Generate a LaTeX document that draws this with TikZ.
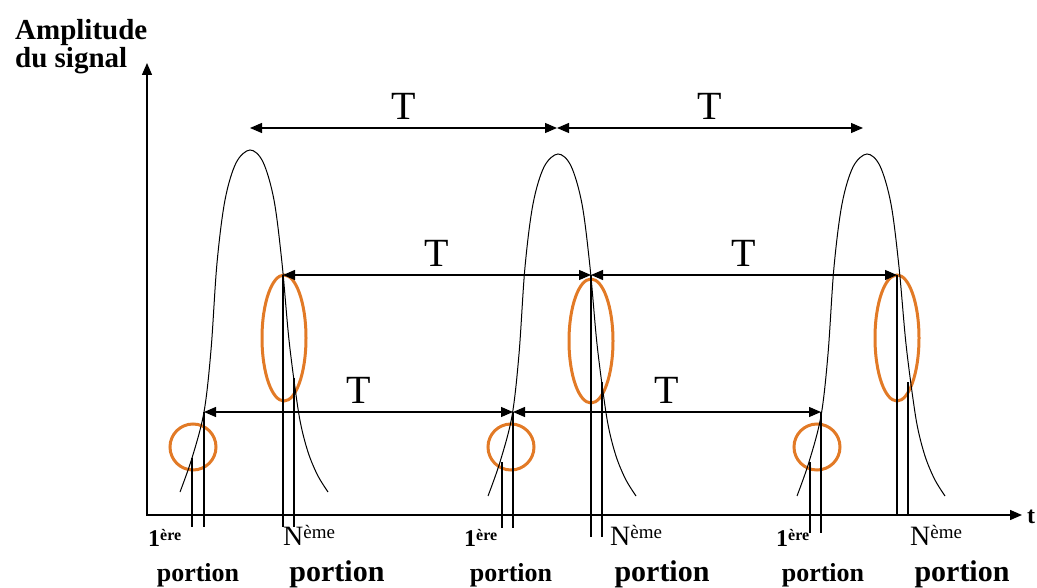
\documentclass[tikz,border=0pt]{standalone}
\usepackage{fontspec}
\setmainfont{Liberation Serif}
\usetikzlibrary{arrows.meta,shapes.geometric}
\definecolor{zoneorange}{RGB}{226,122,38}

\begin{document}
\begin{tikzpicture}[x=1pt, y=-1pt, >={Triangle[length=12pt,width=10pt]},
    axis/.style={draw, <->, line width=1.4pt},
    period/.style={draw, <->, line width=1.1pt},
    pulse/.style={draw, line width=1pt},
    marker/.style={draw, line width=1.1pt},
    zone/.style={ellipse, draw=zoneorange, line width=3pt, inner sep=0pt},
    tlabel/.style={font=\fontsize{40}{44}\selectfont, inner sep=0pt, above=8pt},
    ylabel/.style={font=\fontsize{29}{32}\selectfont\bfseries, anchor=base west, inner sep=0pt},
    onelabel/.style={font=\fontsize{24}{26}\selectfont\bfseries, anchor=base west, inner sep=0pt},
    nlabel/.style={font=\fontsize{28}{30}\selectfont, anchor=base west, inner sep=0pt},
    psmall/.style={font=\fontsize{26}{28}\selectfont\bfseries, anchor=base, inner sep=0pt},
    plarge/.style={font=\fontsize{30}{32}\selectfont\bfseries, anchor=base, inner sep=0pt}]

    \useasboundingbox (0,0) rectangle (1037,588);

    % orange zones (1ere and Neme portions)
    \node [zone, minimum width=46pt, minimum height=46pt] (first1) at (193,447) {};
    \node [zone, minimum width=46pt, minimum height=46pt] (first2) at (511,447) {};
    \node [zone, minimum width=46pt, minimum height=46pt] (first3) at (817,447) {};
    \node [zone, minimum width=44pt, minimum height=126pt] (last1) at (284,338) {};
    \node [zone, minimum width=44pt, minimum height=124pt] (last2) at (591,341) {};
    \node [zone, minimum width=44pt, minimum height=126pt] (last3) at (897,338) {};

    % axes
    \coordinate (origin) at (147,515);
    \coordinate (yend) at (147,63);
    \coordinate (xend) at (1022,515);
    \draw [axis] (yend) -- (origin) -- (xend);

    % pulses
    \foreach \dx/\dy in {0/0, 308/4, 617/4} {
        \draw [pulse, shift={(\dx,\dy)}] plot [smooth, tension=0.55] coordinates {
            (180,492) (192,458) (204,412) (211,350) (217,263) (225,200) (236,163) (250,150)
            (263,162) (274,200) (282,263) (289,340) (297,402) (302,430) (309,455) (318,476) (328,492)};
    }

    % arrow ends
    \coordinate (top1) at (250,128);
    \coordinate (top2) at (557,128);
    \coordinate (top3) at (863,128);
    \coordinate (mid1) at (283,275);
    \coordinate (mid2) at (591,275);
    \coordinate (mid3) at (897,275);
    \coordinate (low1) at (204,412);
    \coordinate (low2) at (513,412);
    \coordinate (low3) at (821,412);

    \path [period] (top1) -- node [tlabel] {T} (top2);
    \path [period] (top2) -- node [tlabel] {T} (top3);
    \path [period] (mid1) -- node [tlabel] {T} (mid2);
    \path [period] (mid2) -- node [tlabel] {T} (mid3);
    \path [period] (low1) -- node [tlabel] {T} (low2);
    \path [period] (low2) -- node [tlabel] {T} (low3);

    % portion markers
    \draw [marker] (192,458) -- (192,527);
    \draw [marker] (low1) -- (204,527);
    \draw [marker] (mid1) -- (283,527);
    \draw [marker] (294,378) -- (294,527);
    \draw [marker] (502,462) -- (502,528);
    \draw [marker] (low2) -- (513,528);
    \draw [marker] (mid2) -- (591,537);
    \draw [marker] (602,382) -- (602,537);
    \draw [marker] (810,462) -- (810,533);
    \draw [marker] (low3) -- (821,533);
    \draw [marker] (mid3) -- (897,515);
    \draw [marker] (908,382) -- (908,515);

    % labels
    \node [ylabel] (amp) at (15,40) {Amplitude};
    \node [ylabel] (sig) at (15,68) {du signal};
    \node [font=\fontsize{24}{26}\selectfont\bfseries, anchor=base west, inner sep=0pt] (tlab) at (1027,523) {t};

    \node [onelabel] (one1) at (148,546) {1\raisebox{6pt}{\fontsize{16}{18}\selectfont ère}};
    \node [onelabel] (one2) at (464,546) {1\raisebox{6pt}{\fontsize{16}{18}\selectfont ère}};
    \node [onelabel] (one3) at (776,546) {1\raisebox{6pt}{\fontsize{16}{18}\selectfont ère}};
    \node [nlabel] (nth1) at (283,545) {N\raisebox{7pt}{\fontsize{19}{20}\selectfont ème}};
    \node [nlabel] (nth2) at (610,545) {N\raisebox{7pt}{\fontsize{19}{20}\selectfont ème}};
    \node [nlabel] (nth3) at (910,545) {N\raisebox{7pt}{\fontsize{19}{20}\selectfont ème}};

    \node [psmall] (por1) at (198,581) {portion};
    \node [psmall] (por3) at (511,581) {portion};
    \node [psmall] (por5) at (823,581) {portion};
    \node [plarge] (por2) at (337,581) {portion};
    \node [plarge] (por4) at (662,581) {portion};
    \node [plarge] (por6) at (962,581) {portion};
\end{tikzpicture}
\end{document}
